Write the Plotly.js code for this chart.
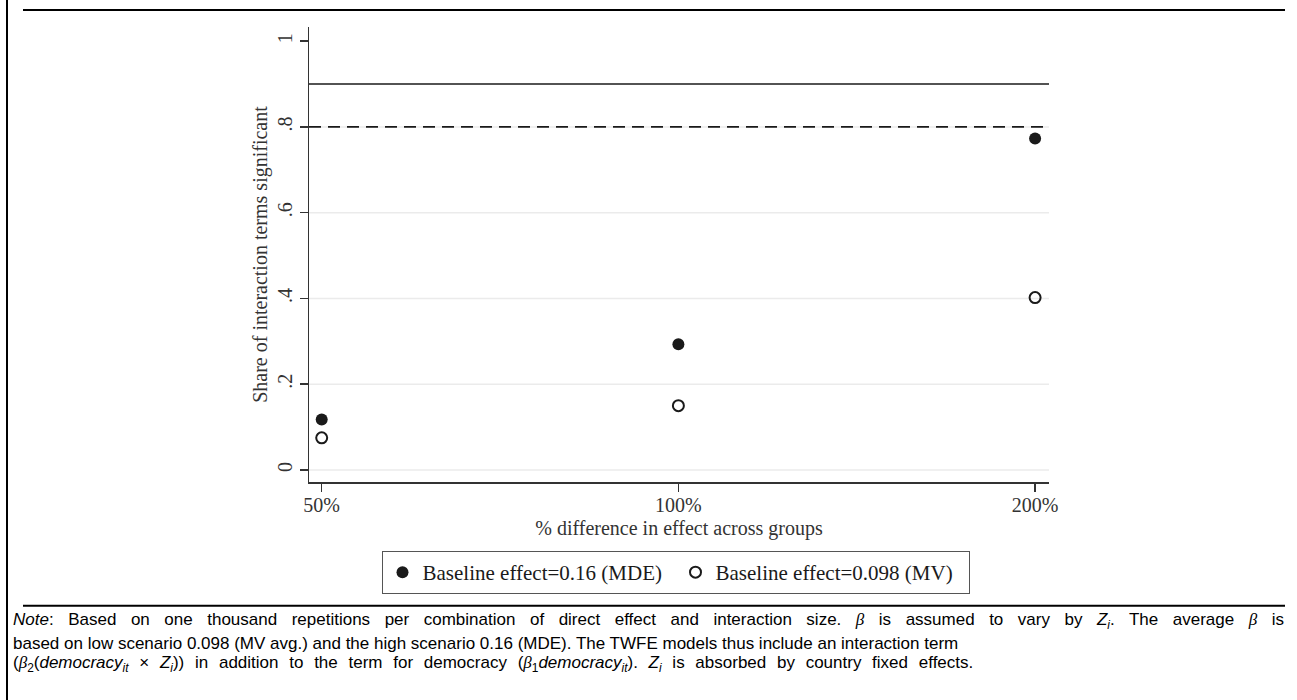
<!DOCTYPE html>
<html><head><meta charset="utf-8">
<script src="https://cdn.plot.ly/plotly-3.0.1.min.js"></script>
<style>html,body{margin:0;padding:0;background:#fff;} #chart{width:1297px;height:700px;}</style>
</head><body><div id="chart"></div>
<script>
// ---- data ----
const categories = ['50%', '100%', '200%'];
const mdeValues = [0.118, 0.293, 0.773];
const mvValues = [0.075, 0.150, 0.402];
const seriesNames = ['Baseline effect=0.16 (MDE)', 'Baseline effect=0.098 (MV)'];
const yTickVals = [0, 0.2, 0.4, 0.6, 0.8, 1];
const yTickText = ['0', '.2', '.4', '.6', '.8', '1'];
const gridVals = [0, 0.2, 0.4, 0.6, 0.8];
const solidRefs = [0.9];
const dashedRefs = [0.8];
const xTitle = '% difference in effect across groups';
const yTitle = 'Share of interaction terms significant';

const SERIF = "'Liberation Serif', 'DejaVu Serif', serif";
const SANS = "'Liberation Sans', Arial, sans-serif";
const INK = '#1a1a1a';

// plot area in pixels
const W = 1297, H = 700;
const L = 309, R = 1049, T = 27, B = 482;
const px2x = p => (p - L) / (R - L);
const px2y = p => (B - p) / (B - T);

const traces = [
  {type: 'scatter', mode: 'markers', x: categories, y: mdeValues, name: seriesNames[0],
   marker: {symbol: 'circle', size: 12, color: INK, line: {width: 0}}},
  {type: 'scatter', mode: 'markers', x: categories, y: mvValues, name: seriesNames[1],
   marker: {symbol: 'circle-open', size: 11, color: INK, line: {width: 2, color: INK}}}
];

const shapes = [];
gridVals.forEach(v => shapes.push({type: 'line', layer: 'below', xref: 'paper', yref: 'y',
  x0: 0, x1: 1, y0: v, y1: v, line: {color: '#ebebeb', width: 1.5}}));
solidRefs.forEach(v => shapes.push({type: 'line', layer: 'above', xref: 'paper', yref: 'y',
  x0: 0, x1: 1, y0: v, y1: v, line: {color: INK, width: 1.6}}));
dashedRefs.forEach(v => shapes.push({type: 'line', layer: 'above', xref: 'paper', yref: 'y',
  x0: 0, x1: 1, y0: v, y1: v, line: {color: INK, width: 1.6, dash: '12px,7px'}}));
// outer frame decoration
shapes.push({type: 'line', xref: 'paper', yref: 'paper', x0: px2x(7), x1: px2x(7), y0: px2y(0), y1: px2y(700), line: {color: '#000', width: 2}});
shapes.push({type: 'line', xref: 'paper', yref: 'paper', x0: px2x(23), x1: px2x(1285), y0: px2y(10), y1: px2y(10), line: {color: '#000', width: 2}});
shapes.push({type: 'line', xref: 'paper', yref: 'paper', x0: px2x(23), x1: px2x(1285), y0: px2y(605.7), y1: px2y(605.7), line: {color: '#000', width: 2}});

const BETA = "<span style=\"font-family:'Liberation Serif'\"><i>β</i></span>";
const noteLines = [
  "<span style=\"word-spacing:9.8px\"><i>Note</i>: Based on one thousand repetitions per combination of direct effect and interaction size. " + BETA + " is assumed to vary by <i>Z<sub>i</sub></i>. The average " + BETA + " is</span>",
  "based on low scenario 0.098 (MV avg.) and the high scenario 0.16 (MDE). The TWFE models thus include an interaction term",
  "<span style=\"word-spacing:6px\">(" + BETA + "<sub>2</sub>(<i>democracy<sub>it</sub></i> × <i>Z<sub>i</sub></i>)) in addition to the term for democracy (" + BETA + "<sub>1</sub><i>democracy<sub>it</sub></i>). <i>Z<sub>i</sub></i> is absorbed by country fixed effects.</span>"
];
const noteY = [621, 643, 664];
const annotations = noteLines.map((t, i) => ({
  text: t, xref: 'paper', yref: 'paper', x: px2x(11), y: px2y(noteY[i]),
  xanchor: 'left', yanchor: 'middle', showarrow: false, align: 'left',
  font: {family: SANS, size: 17, color: '#000'}
}));

const layout = {
  width: W, height: H,
  margin: {l: L, r: W - R, t: T, b: H - B, autoexpand: false},
  paper_bgcolor: '#fff', plot_bgcolor: '#fff',
  showlegend: true,
  legend: {orientation: 'h', x: px2x(675.5), xanchor: 'center', y: px2y(551), yanchor: 'top',
    font: {family: SERIF, size: 21, color: INK}, bordercolor: '#555', borderwidth: 1,
    bgcolor: '#fff', itemclick: false, entrywidth: 248, entrywidthmode: 'pixels'},
  xaxis: {type: 'category', range: [-0.0356, 2.039], showline: true, linecolor: '#333', linewidth: 1.5,
    ticks: 'outside', ticklen: 8, tickwidth: 1.5, tickcolor: '#333', showgrid: false, zeroline: false,
    tickfont: {family: SERIF, size: 20, color: '#333'}, automargin: false, ticklabelstandoff: -4,
    title: {text: xTitle, font: {family: SERIF, size: 20, color: '#333'}, standoff: 6}},
  yaxis: {range: [-0.028, 1.033], tickvals: yTickVals, ticktext: yTickText, tickangle: -90,
    showline: true, linecolor: '#333', linewidth: 1.5, ticks: 'outside', ticklen: 8, tickwidth: 1.5,
    tickcolor: '#333', showgrid: false, zeroline: false, automargin: false,
    tickfont: {family: SERIF, size: 20, color: '#333'},
    title: {text: yTitle, font: {family: SERIF, size: 20, color: '#333'}, standoff: 0}},
  shapes: shapes,
  annotations: annotations
};

Plotly.newPlot('chart', traces, layout, {displayModeBar: false, staticPlot: true});
</script></body></html>
